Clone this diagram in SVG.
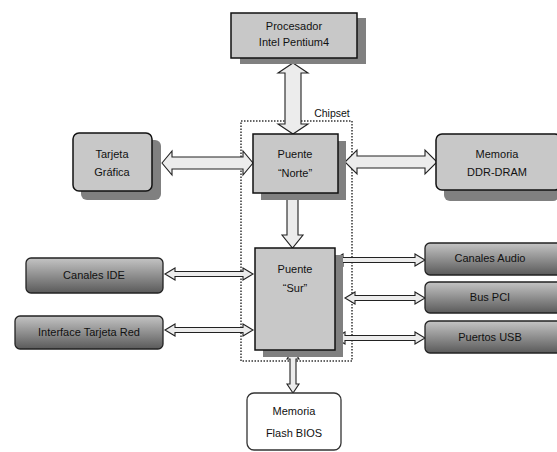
<svg xmlns="http://www.w3.org/2000/svg" width="557" height="452" viewBox="0 0 557 452">
<defs>
<linearGradient id="dg" x1="0" y1="0" x2="0" y2="1">
<stop offset="0" stop-color="#c4c4c4"/>
<stop offset="1" stop-color="#5a5a5a"/>
</linearGradient>
</defs>
<style>
text{font-family:"Liberation Sans",Arial,sans-serif;font-size:11px;fill:#111;text-anchor:middle}
.lb{fill:#c8c8c8;stroke:#111;stroke-width:1.5}
.sh{fill:#808080}
.db{fill:url(#dg);stroke:#222;stroke-width:1.3}
.wb{fill:#fff;stroke:#333;stroke-width:1.3}
.ar{fill:#ececec;stroke:#222;stroke-width:1.1;stroke-linejoin:miter}
.dot{fill:none;stroke:#666;stroke-width:2;stroke-dasharray:1.5 1.5}
</style>
<rect class="dot" x="241" y="121" width="111" height="240"/>
<text x="332" y="117" style="font-size:10.5px">Chipset</text>
<g id="connectors">
<polygon class="ar" points="293,63 308,73 301,73 301,124 308,124 293,134 278,124 285,124 285,73 278,73"/>
<polygon class="ar" points="162,163 172,151 172,157 243,157 243,151 253,163 243,175 243,169 172,169 172,175"/>
<polygon class="ar" points="345,162 357,150 357,156 425,156 425,150 437,162 425,174 425,168 357,168 357,174"/>
<polygon class="ar" points="287,199 298,199 298,235 303,235 292.5,248 282,235 287,235"/>
<polygon class="ar" points="165,274 175,268 175,271.5 243,271.5 243,268 253,274 243,280 243,276.5 175,276.5 175,280"/>
<polygon class="ar" points="165,330 175,324 175,327.5 243,327.5 243,324 253,330 243,336 243,332.5 175,332.5 175,336"/>
<polygon class="ar" points="333,260 343,254 343,257.5 415,257.5 415,254 425,260 415,266 415,262.5 343,262.5 343,266"/>
<polygon class="ar" points="345,298 355,292 355,295.5 415,295.5 415,292 425,298 415,304 415,300.5 355,300.5 355,304"/>
<polygon class="ar" points="335,338 345,332 345,335.5 415,335.5 415,332 425,338 415,344 415,340.5 345,340.5 345,344"/>
<polygon class="ar" points="293,350 299,359 296,359 296,384 299,384 293,393 287,384 290,384 290,359 287,359"/>
</g>
<g id="procesador">
<rect class="sh" x="240" y="18" width="126" height="46"/>
<rect class="lb" x="231" y="13" width="126" height="45"/>
<text x="294" y="30">Procesador</text>
<text x="294" y="46">Intel Pentium4</text>
</g>
<g id="tarjeta">
<rect class="sh" x="81" y="140" width="80" height="60" rx="6"/>
<rect class="lb" x="73" y="133" width="79" height="58" rx="6"/>
<text x="112" y="158">Tarjeta</text>
<text x="112" y="176">Gráfica</text>
</g>
<g id="norte">
<rect class="sh" x="261" y="141" width="85" height="59"/>
<rect class="lb" x="253" y="134" width="85" height="59"/>
<text x="295" y="158">Puente</text>
<text x="295" y="177">“Norte”</text>
</g>
<g id="ddr">
<rect class="sh" x="444" y="141" width="115" height="60" rx="6"/>
<rect class="lb" x="436" y="134" width="125" height="56" rx="6"/>
<text x="497" y="158">Memoria</text>
<text x="497" y="176">DDR-DRAM</text>
</g>
<g id="sur">
<rect class="sh" x="263" y="255" width="80" height="102"/>
<rect class="lb" x="255" y="248" width="80" height="102"/>
<text x="295" y="273">Puente</text>
<text x="295" y="292">“Sur”</text>
</g>
<g id="ide">
<rect class="db" x="26" y="258" width="137" height="35" rx="5"/>
<text x="94" y="279">Canales IDE</text>
</g>
<g id="red">
<rect class="db" x="15" y="316" width="148" height="33" rx="5"/>
<text x="89" y="336">Interface Tarjeta Red</text>
</g>
<g id="audio">
<rect class="db" x="425" y="243" width="140" height="32" rx="5"/>
<text x="490" y="262">Canales Audio</text>
</g>
<g id="pci">
<rect class="db" x="425" y="282" width="140" height="31" rx="5"/>
<text x="490" y="301">Bus PCI</text>
</g>
<g id="usb">
<rect class="db" x="425" y="321" width="140" height="32" rx="5"/>
<text x="490" y="341">Puertos USB</text>
</g>
<g id="bios">
<rect class="wb" x="247" y="393" width="94" height="57" rx="7"/>
<text x="294" y="415">Memoria</text>
<text x="294" y="437">Flash BIOS</text>
</g>
</svg>
